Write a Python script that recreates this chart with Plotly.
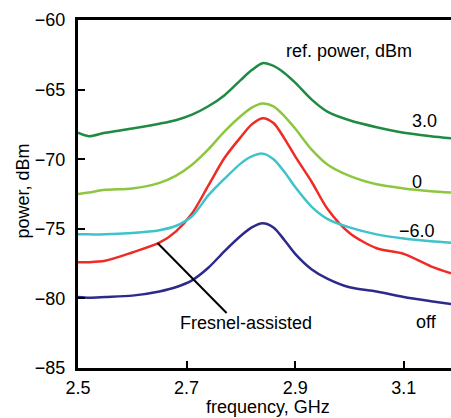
import plotly.graph_objects as go

freq = [2.50, 2.52, 2.55, 2.60, 2.65, 2.68, 2.71, 2.74, 2.77, 2.80, 2.82,
        2.84, 2.86, 2.88, 2.90, 2.93, 2.96, 3.00, 3.05, 3.10, 3.15, 3.187]

p_3dbm = [-68.1, -68.35, -68.1, -67.8, -67.45, -67.2, -66.8, -66.2, -65.4, -64.3, -63.6,
          -63.1, -63.3, -63.8, -64.5, -65.7, -66.6, -67.2, -67.7, -68.1, -68.35, -68.5]
p_0dbm = [-72.5, -72.4, -72.2, -72.1, -71.7, -71.2, -70.4, -69.3, -68.0, -66.9, -66.3,
          -66.0, -66.2, -66.9, -67.8, -69.3, -70.4, -71.2, -71.8, -72.1, -72.3, -72.4]
p_fresnel = [-77.4, -77.4, -77.3, -76.7, -76.0, -75.2, -73.9, -71.9, -69.9, -68.4, -67.5,
             -67.05, -67.4, -68.5, -69.8, -71.6, -73.6, -75.3, -76.4, -76.8, -77.7, -78.2]
p_m6dbm = [-75.4, -75.4, -75.4, -75.3, -75.1, -74.8, -74.1, -72.6, -71.4, -70.3, -69.8,
           -69.6, -70.0, -70.9, -72.0, -73.4, -74.3, -74.9, -75.4, -75.7, -75.9, -76.0]
p_off = [-79.9, -79.95, -79.9, -79.8, -79.5, -79.2, -78.7, -77.8, -76.6, -75.5, -74.9,
         -74.6, -74.9, -75.8, -76.8, -77.9, -78.6, -79.2, -79.5, -79.9, -80.2, -80.4]

series_names = ["3.0", "0", "Fresnel-assisted", "\u22126.0", "off"]
series_values = [p_3dbm, p_0dbm, p_fresnel, p_m6dbm, p_off]
series_colors = ["#1f8a42", "#8dc63f", "#ee2b24", "#3ec3cb", "#2c2b8a"]

x_ticks = [2.5, 2.7, 2.9, 3.1]
y_ticks = [-85, -80, -75, -70, -65, -60]

# annotation label texts and anchor points (data coords)
label_texts = ["ref. power, dBm", "3.0", "0", "\u22126.0", "off", "Fresnel-assisted"]
label_x = [3.0, 3.139, 3.124, 3.124, 3.141, 2.809]
label_y = [-62.23, -67.29, -71.64, -75.16, -81.7, -81.77]

leader_x = [2.6465, 2.7737]
leader_y = [-76.02, -81.05]

FONT = "Liberation Sans, Arial, Helvetica, sans-serif"

fig = go.Figure()
for name, vals, col in zip(series_names, series_values, series_colors):
    fig.add_trace(go.Scatter(x=freq, y=vals, mode="lines", name=name,
                             line=dict(color=col, width=2.5, shape="spline", smoothing=0.8),
                             showlegend=False, hoverinfo="skip"))

for t, x, y in zip(label_texts, label_x, label_y):
    fig.add_annotation(x=x, y=y, text=t, showarrow=False, xanchor="center", yanchor="middle",
                       font=dict(family=FONT, size=18, color="black"))

fig.add_shape(type="line", x0=leader_x[0], y0=leader_y[0], x1=leader_x[1], y1=leader_y[1],
              line=dict(color="black", width=2))

# axis titles
fig.add_annotation(xref="paper", yref="paper", x=(24 - 78.5) / 372.5, y=(368 - 191) / 348,
                   text="power, dBm", textangle=-90, showarrow=False,
                   xanchor="center", yanchor="middle",
                   font=dict(family=FONT, size=18, color="black"))
fig.add_annotation(xref="paper", yref="paper", x=(268 - 78.5) / 372.5, y=-(418 - 368) / 348,
                   text="frequency, GHz", showarrow=False,
                   xanchor="center", yanchor="bottom", borderpad=0,
                   font=dict(family=FONT, size=18, color="black"))

fig.update_layout(
    width=451, height=418,
    margin=dict(l=78, r=0, t=20, b=50),
    plot_bgcolor="white", paper_bgcolor="white",
    font=dict(family=FONT, size=18, color="black"),
    xaxis=dict(range=[2.5, 3.187], tickvals=x_ticks, ticktext=[f"{v:.1f}" for v in x_ticks],
               showgrid=False, zeroline=False, showline=True, linecolor="black", linewidth=3,
               mirror=True, ticks="inside", ticklen=7, tickwidth=2, tickcolor="black",
               ticklabelstandoff=1, tickfont=dict(family=FONT, size=18, color="black")),
    yaxis=dict(range=[-85, -60], tickvals=y_ticks,
               showgrid=False, zeroline=False, showline=True, linecolor="black", linewidth=3,
               ticks="inside", ticklen=7, tickwidth=2, tickcolor="black",
               ticklabelstandoff=6, tickfont=dict(family=FONT, size=18, color="black")),
)

fig.write_html("out.html", config={"displayModeBar": False},
               post_script="document.body.style.margin='0';document.body.style.overflow='hidden';")
